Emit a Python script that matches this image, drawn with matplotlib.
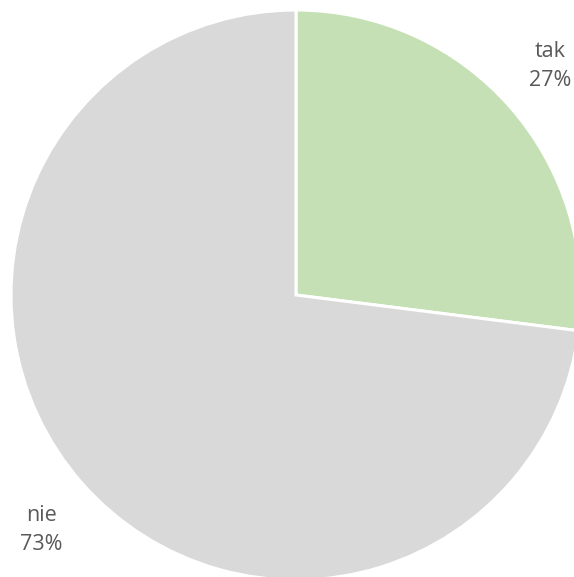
import matplotlib.pyplot as plt

# ── Data ───────────────────────────────────────────────────────────────
labels = ["tak", "nie"]
values = [27, 73]
colors = ["#C5E0B4", "#D9D9D9"]

W, H = 574, 577
fig = plt.figure(figsize=(W / 100, H / 100), dpi=100)
ax = fig.add_axes([0, 0, 1, 1])

cx, cy, r = 296, H - 295, 285
ax.pie(values, colors=colors, startangle=90, counterclock=False,
       center=(cx, cy), radius=r, frame=True,
       wedgeprops=dict(edgecolor="white", linewidth=2.2))
ax.set_xlim(0, W)
ax.set_ylim(0, H)
ax.set_aspect("equal")
ax.axis("off")

# ── Labels ─────────────────────────────────────────────────────────────
label_pos = [(550, H - 66), (41, H - 530)]
for lab, val, (x, y) in zip(labels, values, label_pos):
    ax.text(x, y, f"{lab}\n{val}%", ha="center", va="center",
            fontsize=15.5, fontfamily="Open Sans", color="#595959",
            linespacing=1.45)

fig.savefig("out.png", dpi=100, facecolor="white")
